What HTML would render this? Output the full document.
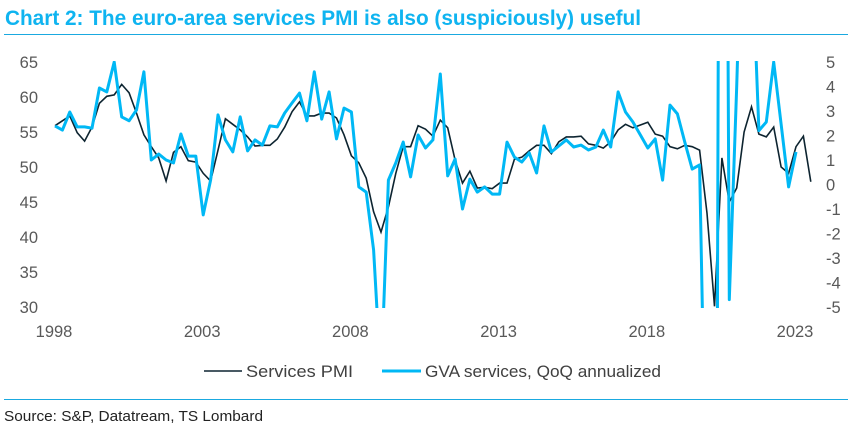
<!DOCTYPE html>
<html><head><meta charset="utf-8"><style>
html,body{margin:0;padding:0;background:#fff;width:852px;height:432px;overflow:hidden;font-family:"Liberation Sans",sans-serif}
svg{display:block}
</style></head><body>
<svg width="852" height="432">
<text x="5" y="25" font-size="21" font-weight="bold" fill="#0fb4f0" textLength="636" lengthAdjust="spacingAndGlyphs">Chart 2: The euro-area services PMI is also (suspiciously) useful</text>
<line x1="4" y1="34.5" x2="848" y2="34.5" stroke="#1aa9e0" stroke-width="1"/>
<g id="ly"></g>
<g id="ry"></g>
<g id="xa"></g>
<defs><clipPath id="cp"><rect x="30" y="61" width="790" height="247"/></clipPath></defs>
<g clip-path="url(#cp)">
<path id="pmi" fill="none" stroke="#0d2430" stroke-width="1.6"/>
<path id="gva" fill="none" stroke="#00b8f5" stroke-width="3" stroke-linejoin="round"/>
</g>
<g>
<line x1="204" y1="371" x2="242" y2="371" stroke="#0d2430" stroke-width="1.6"/>
<text x="246" y="377" font-size="17" fill="#404040" textLength="107" lengthAdjust="spacingAndGlyphs">Services PMI</text>
<line x1="382" y1="371" x2="421" y2="371" stroke="#00b8f5" stroke-width="3"/>
<text x="425" y="377" font-size="17" fill="#404040" textLength="236" lengthAdjust="spacingAndGlyphs">GVA services, QoQ annualized</text>
</g>
<line x1="4" y1="399.5" x2="848" y2="399.5" stroke="#1aa9e0" stroke-width="1"/>
<text x="4" y="421" font-size="15" fill="#222" textLength="259" lengthAdjust="spacingAndGlyphs">Source: S&amp;P, Datatream, TS Lombard</text>
</svg>
<script>
const years=[1998,2003,2008,2013,2018,2023];
const leftTicks=[30,35,40,45,50,55,60,65];
const rightTicks=[-5,-4,-3,-2,-1,0,1,2,3,4,5];
const pmi=[55.9,56.6,57.3,54.9,53.7,55.7,59.1,60.1,60.3,61.8,60.6,57.7,54.6,52.9,51.3,48.0,52.1,52.9,50.9,50.7,49.1,48.0,52.4,56.9,56.1,55.3,54.3,53.0,53.1,53.1,54.0,55.7,57.9,59.3,57.3,57.3,57.7,57.7,57.0,54.6,51.6,50.6,48.4,43.6,40.7,44.3,49.1,52.9,52.9,55.9,55.4,54.4,56.7,55.6,51.0,47.7,49.4,47.0,47.1,46.9,47.7,47.7,51.1,51.4,52.3,53.1,53.1,51.9,53.6,54.3,54.3,54.4,53.3,53.1,52.7,53.6,55.3,56.1,55.6,56.0,56.4,54.7,54.4,52.9,52.6,53.1,52.9,52.4,43.4,30.1,51.3,45.0,47.0,55.0,58.6,54.7,54.3,55.7,50.0,49.1,52.9,54.4,47.9];
const gva=[2.39,2.22,2.96,2.35,2.35,2.3,3.94,3.78,5.0,2.76,2.6,3.04,4.6,1.0,1.24,1.0,0.88,2.06,1.16,1.16,-1.24,0.18,2.84,1.82,1.33,2.76,1.37,1.82,1.61,2.39,2.35,2.92,3.33,3.73,2.6,4.6,2.67,3.78,1.86,3.12,2.96,-0.1,-0.31,-2.67,-8,0.18,0.88,1.73,0.31,2.02,1.49,1.82,4.51,0.35,1.04,-1,0.22,-0.31,-0.1,-0.39,-0.39,1.73,1.12,0.92,1.29,0.47,2.39,1.33,1.57,1.82,1.53,1.61,1.41,1.53,2.22,1.53,3.78,2.96,2.55,2.02,1.49,1.86,0.18,3.24,2.88,1.73,0.63,0.8,-15,-45,55,-4.7,4,14,10,2.2,2.55,5,2.47,-0.1,1.33];
const NS='http://www.w3.org/2000/svg';
const xT=t=>52+(t-1998)*29.64;
const xI=i=>xT(1998.1+i*0.25);
const yL=v=>62+(65-v)*7;
const yR=v=>62+(5-v)*24.5;
function txt(g,x,y,s,anchor){const e=document.createElementNS(NS,'text');e.setAttribute('x',x);e.setAttribute('y',y);e.setAttribute('font-size','16.5');e.setAttribute('fill','#595959');e.setAttribute('text-anchor',anchor);e.textContent=s;g.appendChild(e);return e;}
const ly=document.getElementById('ly');
leftTicks.forEach(v=>{const e=txt(ly,38,yL(v)+6,v,'end');

});
const ry=document.getElementById('ry');
rightTicks.forEach(v=>{const e=txt(ry,826,yR(v)+6,v,'start');

});
const xa=document.getElementById('xa');
years.forEach(y=>{const e=txt(xa,xT(y)+2,337,y,'middle');

});
document.getElementById('pmi').setAttribute('d',pmi.map((v,i)=>(i?'L':'M')+xI(i).toFixed(1)+' '+yL(v).toFixed(1)).join(''));
document.getElementById('gva').setAttribute('d',gva.map((v,i)=>(i?'L':'M')+xI(i).toFixed(1)+' '+yR(v).toFixed(1)).join(''));
</script>
</body></html>
